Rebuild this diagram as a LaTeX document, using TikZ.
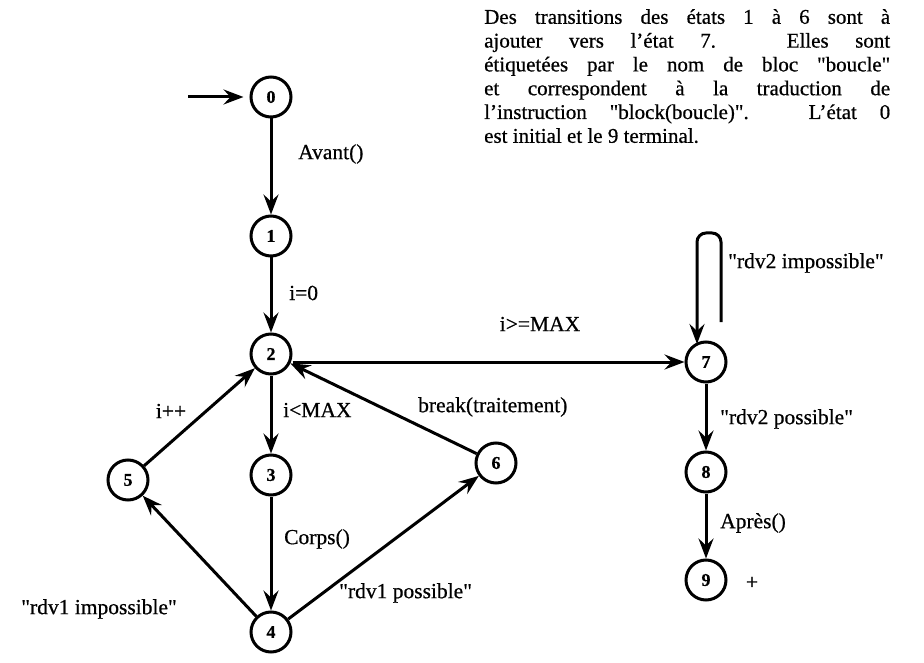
\documentclass[tikz,border=0pt]{standalone}
\usepackage{fontspec}
\setmainfont{Liberation Serif}[FakeBold=0.6]
\usetikzlibrary{arrows.meta,calc}
\newcommand{\qq}{\textquotedbl}
\tikzset{
  st/.style={circle, draw, line width=3pt, minimum size=40pt, inner sep=0pt,
             font=\fontsize{18}{18}\selectfont\bfseries},
  arr/.style={line width=3pt, -{Stealth[length=20pt,width=15pt,inset=7pt]}},
  lab/.style={font=\fontsize{21.5}{21.5}\selectfont, inner sep=0pt},
}
\begin{document}
\begin{tikzpicture}[x=1pt,y=-1pt]
\useasboundingbox (0,0) rectangle (924,663);

\node[anchor=north west, text width=406pt, align=justify, inner sep=0pt,
      font=\fontsize{21}{23.8}\selectfont] (txt) at (484,9)
 {Des transitions des états 1 à 6 sont à\linebreak
  ajouter vers l'état 7. Elles sont\linebreak
  étiquetées par le nom de bloc \qq boucle\qq\linebreak
  et correspondent à la traduction de\linebreak
  l'instruction \qq block(boucle)\qq. L'état 0\linebreak
  est initial et le 9 terminal.};

\node[st] (n0) at (271,97) {0};
\node[st] (n1) at (271,236) {1};
\node[st] (n2) at (271,354) {2};
\node[st] (n3) at (271,475) {3};
\node[st] (n4) at (271,632) {4};
\node[st] (n5) at (128,480) {5};
\node[st] (n6) at (496,463) {6};
\node[st] (n7) at (706,362) {7};
\node[st] (n8) at (706,472) {8};
\node[st] (n9) at (706,580) {9};
\coordinate (ini) at (188,97);

\draw[arr, shorten >=6pt] (ini) -- (n0);
\draw[arr] (n0) -- (n1);
\draw[arr] (n1) -- (n2);
\draw[arr] (n2.east |- n7.west) -- (n7.west);
\draw[arr] (n2) -- (n3);
\draw[arr] (n3) -- (n4);
\draw[arr] (n4) -- (n5);
\draw[arr] (n4) -- (n6);
\draw[arr] (n5) -- (n2);
\draw[arr] (n6) -- (n2);
\draw[arr, rounded corners=9pt] ($(n7.center)+(15,-40)$) -- ($(n7.center)+(15,-129)$)
   -- ($(n7.center)+(-9,-129)$) -- ($(n7.center)+(-9,-18)$);
\draw[arr] (n7) -- (n8);
\draw[arr] (n8) -- (n9);

\node[lab, anchor=west] (lA) at (298,154) {Avant()};
\node[lab, anchor=west] (lB) at (289,293) {i=0};
\node[lab] (lC) at (540,324) {i>=MAX};
\node[lab, anchor=west] (lD) at (283,410) {i<MAX};
\node[lab, anchor=west] (lE) at (418,407) {break(traitement)};
\node[lab] (lF) at (171,411) {i++};
\node[lab, anchor=west] (lG) at (284,539) {Corps()};
\node[lab, anchor=east] (lH) at (177,609) {\qq rdv1 impossible\qq};
\node[lab, anchor=west] (lI) at (339,593) {\qq rdv1 possible\qq};
\node[lab, anchor=west] (lJ) at (728,263) {\qq rdv2 impossible\qq};
\node[lab, anchor=west] (lK) at (720,419) {\qq rdv2 possible\qq};
\node[lab, anchor=west] (lL) at (720,523) {Après()};
\node[lab] (plus) at (752,583) {+};
\end{tikzpicture}
\end{document}
